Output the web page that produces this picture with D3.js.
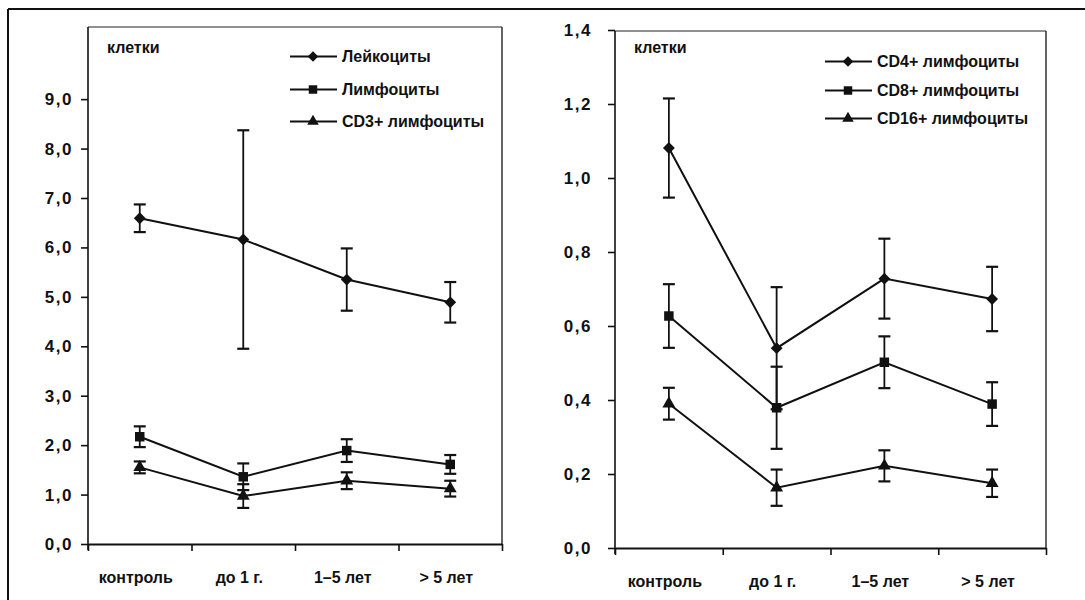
<!DOCTYPE html>
<html><head><meta charset="utf-8">
<script src="https://cdn.jsdelivr.net/npm/d3@7"></script>
<style>
body{margin:0;background:#fff;}
svg text{font-family:"Liberation Sans",Arial,sans-serif;font-weight:bold;fill:#111;}
</style></head>
<body><svg id="c" width="1085" height="600"></svg>
<script>
const categories = ["контроль", "до 1 г.", "1–5 лет", "> 5 лет"];

const leftNames = ["Лейкоциты", "Лимфоциты", "CD3+ лимфоциты"];
const leukocytes = [6.59, 6.16, 5.35, 4.89];
const leukocytesErr = [0.28, 2.21, 0.63, 0.41];
const lymphocytes = [2.17, 1.36, 1.89, 1.61];
const lymphocytesErr = [0.21, 0.27, 0.23, 0.19];
const cd3 = [1.55, 0.97, 1.28, 1.12];
const cd3Err = [0.12, 0.24, 0.17, 0.16];
const leftTicks = [0, 1, 2, 3, 4, 5, 6, 7, 8, 9];

const rightNames = ["CD4+ лимфоциты", "CD8+ лимфоциты", "CD16+ лимфоциты"];
const cd4 = [1.081, 0.54, 0.728, 0.673];
const cd4Err = [0.134, 0.165, 0.108, 0.087];
const cd8 = [0.627, 0.379, 0.502, 0.389];
const cd8Err = [0.086, 0.111, 0.07, 0.059];
const cd16 = [0.39, 0.163, 0.222, 0.175];
const cd16Err = [0.043, 0.049, 0.042, 0.037];
const rightTicks = [0, 0.2, 0.4, 0.6, 0.8, 1.0, 1.2, 1.4];

const yLabel = "клетки";

const svg = d3.select("#c");
const fmt = v => d3.format(".1f")(v).replace(".", ",");

// outer frame
svg.append("line").attr("x1", 8).attr("y1", 9).attr("x2", 1085).attr("y2", 9).attr("stroke", "#111").attr("stroke-width", 2);
svg.append("line").attr("x1", 8).attr("y1", 9).attr("x2", 8).attr("y2", 600).attr("stroke", "#111").attr("stroke-width", 2);

const symbols = [
  {type: d3.symbolSquare, size: 70, rot: 45},
  {type: d3.symbolSquare, size: 90, rot: 0},
  {type: d3.symbolTriangle, size: 72, rot: 0}
];

function panel(cfg) {
  const g = svg.append("g");
  const x = d3.scaleBand().domain(categories).range([cfg.left, cfg.right]).padding(0);
  const xb = d3.scaleLinear().domain([0, categories.length]).range([cfg.left, cfg.right]);
  const y = d3.scaleLinear().domain(cfg.domain).range([cfg.bottom, cfg.topV]);

  // box top & right
  g.append("line").attr("x1", cfg.left).attr("x2", cfg.right).attr("y1", cfg.boxTop).attr("y2", cfg.boxTop).attr("stroke", "#222").attr("stroke-width", 1.2);
  g.append("line").attr("x1", cfg.right).attr("x2", cfg.right).attr("y1", cfg.boxTop).attr("y2", cfg.bottom).attr("stroke", "#222").attr("stroke-width", 1.4);

  // y axis
  const ya = g.append("g").attr("transform", `translate(${cfg.left},0)`)
    .call(d3.axisLeft(y).tickValues(cfg.ticks).tickFormat(fmt).tickSize(7).tickSizeOuter(0));
  ya.select(".domain").attr("stroke", "#111").attr("stroke-width", 1.6).attr("d", `M0,${cfg.boxTop}V${cfg.bottom + 6}`);
  ya.selectAll(".tick line").attr("stroke", "#111").attr("stroke-width", 1.6);
  ya.selectAll(".tick text").attr("x", -cfg.labelGap).style("font-size", "17px").style("letter-spacing", "1.5px").style("font-family", null);

  // x axis
  const xa = g.append("g").attr("transform", `translate(0,${cfg.bottom})`)
    .call(d3.axisBottom(xb).tickValues(d3.range(categories.length + 1)).tickFormat("").tickSize(7).tickSizeOuter(0));
  xa.select(".domain").attr("stroke", "#111").attr("stroke-width", 2);
  xa.selectAll(".tick line").attr("stroke", "#111").attr("stroke-width", 1.6);

  g.selectAll(".xl").data(categories).enter().append("text")
    .attr("x", d => x(d) + x.bandwidth() / 2 - 4).attr("y", cfg.bottom + 39)
    .attr("text-anchor", "middle").style("font-size", "16px").text(d => d);

  g.append("text").attr("x", cfg.left + 19).attr("y", 53).style("font-size", "16px").text(yLabel);

  const cx = d => x(d) + x.bandwidth() / 2;
  const line = d3.line().x((d, i) => cx(categories[i])).y(d => y(d));

  cfg.series.forEach((s, si) => {
    const sg = g.append("g");
    // error bars
    s.values.forEach((v, i) => {
      const xx = cx(categories[i]);
      const e = s.err[i];
      sg.append("line").attr("x1", xx).attr("x2", xx).attr("y1", y(v + e)).attr("y2", y(v - e)).attr("stroke", "#111").attr("stroke-width", 1.8);
      [v + e, v - e].forEach(t => {
        sg.append("line").attr("x1", xx - 6).attr("x2", xx + 6).attr("y1", y(t)).attr("y2", y(t)).attr("stroke", "#111").attr("stroke-width", 2.2);
      });
    });
    sg.append("path").datum(s.values).attr("d", line).attr("fill", "none").attr("stroke", "#111").attr("stroke-width", 2);
    const sym = symbols[si];
    sg.selectAll("path.m").data(s.values).enter().append("path")
      .attr("d", d3.symbol().type(sym.type).size(sym.size))
      .attr("transform", (d, i) => `translate(${cx(categories[i])},${y(d)}) rotate(${sym.rot})`)
      .attr("fill", "#111");
  });

  // legend
  cfg.series.forEach((s, si) => {
    const ly = cfg.legY[si];
    g.append("line").attr("x1", cfg.legX).attr("x2", cfg.legX + 47).attr("y1", ly).attr("y2", ly).attr("stroke", "#111").attr("stroke-width", 2);
    const sym = symbols[si];
    g.append("path").attr("d", d3.symbol().type(sym.type).size(sym.size * 0.8))
      .attr("transform", `translate(${cfg.legX + 23},${ly}) rotate(${sym.rot})`).attr("fill", "#111");
    g.append("text").attr("x", cfg.legX + 52).attr("y", ly).attr("dy", "0.36em").style("font-size", "16px").text(s.name);
  });
}

panel({
  left: 88, right: 502, bottom: 544, topV: 25, boxTop: 27, domain: [0, 10.5], ticks: leftTicks, labelGap: 15,
  legX: 290, legY: [56.5, 89.5, 121.5],
  series: [
    {name: leftNames[0], values: leukocytes, err: leukocytesErr},
    {name: leftNames[1], values: lymphocytes, err: lymphocytesErr},
    {name: leftNames[2], values: cd3, err: cd3Err}
  ]
});

panel({
  left: 615, right: 1046, bottom: 548, topV: 30, boxTop: 31, domain: [0, 1.4], ticks: rightTicks, labelGap: 23,
  legX: 825, legY: [61.5, 90.5, 118.5],
  series: [
    {name: rightNames[0], values: cd4, err: cd4Err},
    {name: rightNames[1], values: cd8, err: cd8Err},
    {name: rightNames[2], values: cd16, err: cd16Err}
  ]
});
</script></body></html>
